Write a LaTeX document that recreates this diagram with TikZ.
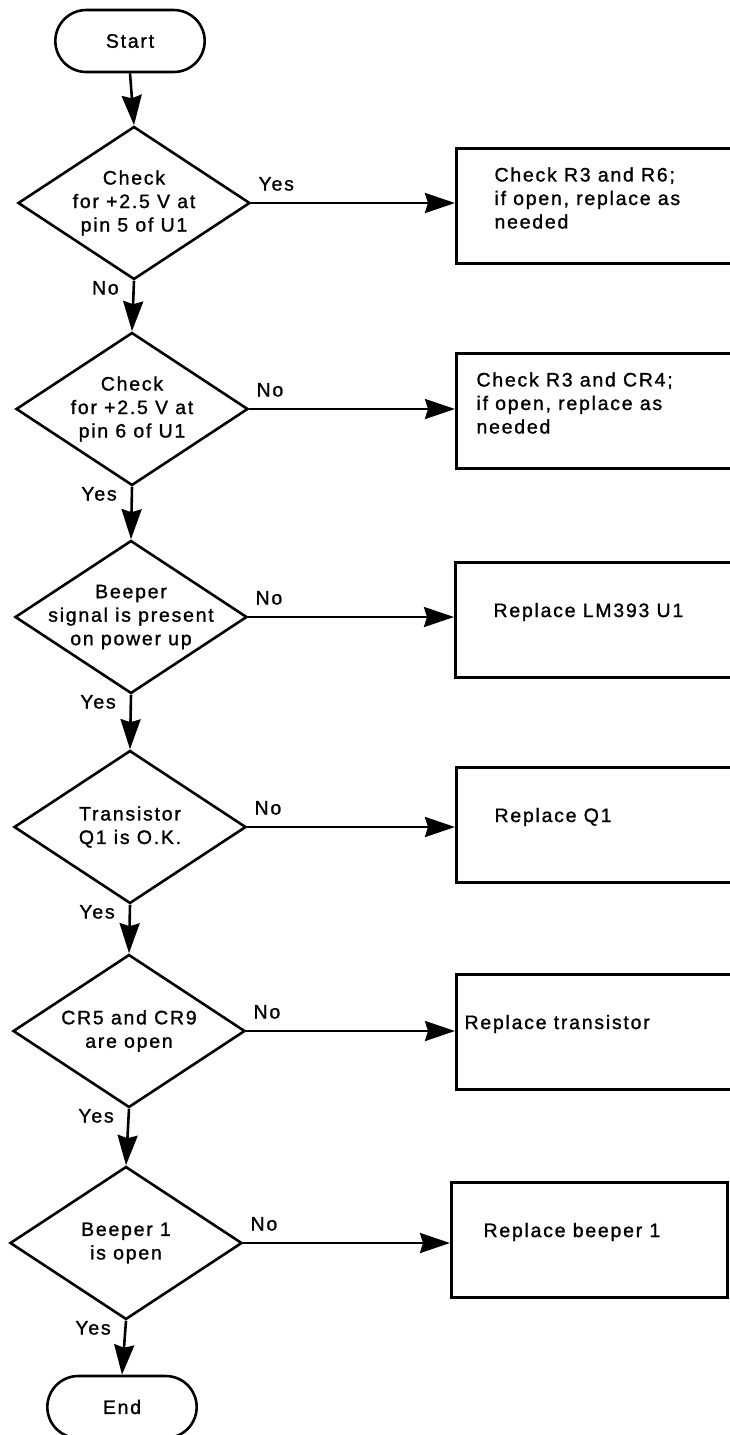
\documentclass[tikz,border=0pt]{standalone}
\usepackage{fontspec}
\setmainfont[LetterSpace=9, FakeBold=1.2]{Liberation Sans}
\usetikzlibrary{shapes.geometric,shapes.misc,arrows.meta}

\tikzset{
    chartfont/.style={font=\fontsize{19.5}{23.5}\selectfont},
    decision/.style={diamond, draw, line width=2.6pt, minimum width=232pt, minimum height=153pt, inner sep=0pt},
    terminal/.style={rounded rectangle, draw, line width=2.6pt, minimum width=156pt, minimum height=62pt, chartfont},
    action/.style={rectangle, draw, line width=2.6pt, anchor=west, minimum width=276pt, minimum height=115pt},
    inside/.style={align=center, chartfont},
    boxtext/.style={anchor=west, align=left, xshift=36pt, yshift=8pt, chartfont},
    flow/.style={line width=2.6pt, -{Stealth[length=30pt, width=20pt, inset=3pt]}},
    answer/.style={chartfont, inner sep=2pt},
    right answer/.style={answer, pos=0, anchor=south west, xshift=4pt, yshift=9pt},
    down answer/.style={answer, pos=0, anchor=north east, xshift=-12pt, yshift=3pt}
}

\begin{document}
\begin{tikzpicture}[x=1pt, y=-1pt]

                \useasboundingbox (0,0) rectangle (730,1435);

                % start and end
                \node[terminal] (s) at (130,41) {Start};
                \node[terminal] (e) at (122,1407) {End};

                % the checks
                \node[decision, label={[inside]center:{Check\\for +2.5 V at\\pin 5 of U1}}] (d1) at (134,203) {};
                \node[decision, label={[inside]center:{Check\\for +2.5 V at\\pin 6 of U1}}] (d2) at (132,409) {};
                \node[decision, label={[inside]center:{Beeper\\signal is present\\on power up}}] (d3) at (131,617) {};
                \node[decision, label={[inside]center:{Transistor\\Q1 is O.K.}}] (d4) at (130,827) {};
                \node[decision, label={[inside]center:{CR5 and CR9\\are open}}] (d5) at (129,1031) {};
                \node[decision, label={[inside]center:{Beeper 1\\is open}}] (d6) at (126,1243) {};

                % what to do
                \node[action, label={[boxtext]west:{Check R3 and R6;\\if open, replace as\\needed}}] (b1) at (455,206) {};
                \node[action, label={[boxtext, xshift=-18pt]west:{Check R3 and CR4;\\if open, replace as\\needed}}] (b2) at (455,411) {};
                \node[action, label={[boxtext]west:{Replace LM393 U1}}] (b3) at (454,620) {};
                \node[action, label={[boxtext]west:{Replace Q1}}] (b4) at (455,825) {};
                \node[action, label={[boxtext, xshift=-30pt]west:{Replace transistor}}] (b5) at (455,1032) {};
                \node[action, label={[boxtext, xshift=-6pt]west:{Replace beeper 1}}] (b6) at (450,1240) {};

                \draw[flow] (s.south) -- (d1.north);
                \draw[flow] (d1.south) -- node[down answer] {No} (d2.north);
                \draw[flow] (d2.south) -- node[down answer] {Yes} (d3.north);
                \draw[flow] (d3.south) -- node[down answer] {Yes} (d4.north);
                \draw[flow] (d4.south) -- node[down answer] {Yes} (d5.north);
                \draw[flow] (d5.south) -- node[down answer] {Yes} (d6.north);
                \draw[flow] (d6.south) -- node[down answer] {Yes} (e.north);

                \draw[flow] (d1.east) -- node[right answer] {Yes} (d1.east -| b1.west);
                \draw[flow] (d2.east) -- node[right answer] {No} (d2.east -| b2.west);
                \draw[flow] (d3.east) -- node[right answer] {No} (d3.east -| b3.west);
                \draw[flow] (d4.east) -- node[right answer] {No} (d4.east -| b4.west);
                \draw[flow] (d5.east) -- node[right answer] {No} (d5.east -| b5.west);
                \draw[flow] (d6.east) -- node[right answer] {No} (d6.east -| b6.west);

\end{tikzpicture}
\end{document}
